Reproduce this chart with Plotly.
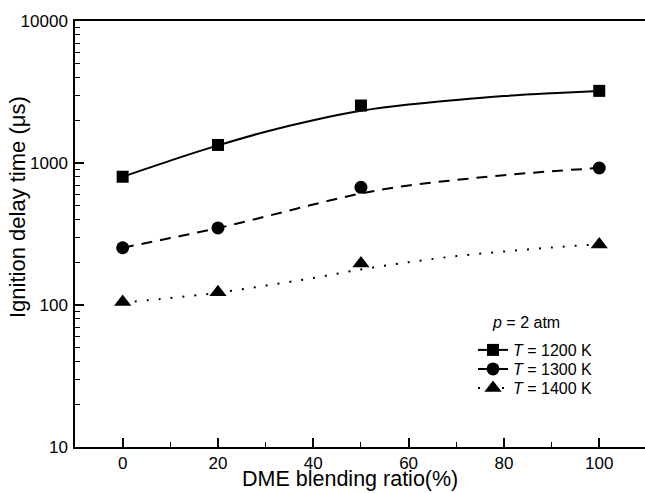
import plotly.graph_objects as go

# ---- data ----
blend = [0, 20, 50, 100]
t1200 = [800, 1340, 2540, 3220]
t1300 = [253, 349, 674, 922]
t1400 = [105, 123, 196, 267]

fit_x = [0, 10, 20, 30, 40, 50, 60, 70, 80, 90, 100]
fit1200 = [800, 1040, 1330, 1660, 2000, 2330, 2580, 2780, 2960, 3100, 3220]
fit1300 = [253, 296, 348, 420, 510, 610, 695, 760, 820, 875, 922]
fit1400 = [104, 112, 122, 137, 155, 178, 200, 221, 238, 254, 268]

x_ticks = [0, 20, 40, 60, 80, 100]
y_ticks = [10, 100, 1000, 10000]
y_ticktext = ["10", "100", "1000", "10000"]
y_minor = [m * 10 ** e for e in (1, 2, 3) for m in range(2, 10)]

labels = ["<i>T</i> = 1200 K", "<i>T</i> = 1300 K", "<i>T</i> = 1400 K"]
symbols = ["square", "circle", "triangle-up"]
sizes = [12, 13, 15]
dashes = ["solid", "11px,8px", "2px,10px"]
legend_ids = ["legend", "legend2", "legend3"]

FONT = "Liberation Sans, Arial, sans-serif"

# plot-area geometry in pixels
L, T, W, H = 75, 21, 570, 426


def px_x(p):
    return (p - L) / W


def px_y(p):
    return 1 - (p - T) / H


fig = go.Figure()
for fy, d in zip([fit1200, fit1300, fit1400], dashes):
    fig.add_trace(go.Scatter(x=fit_x, y=fy, mode="lines", showlegend=False,
                             line=dict(color="black", width=2, dash=d,
                                       shape="spline", smoothing=1)))
for ys, sym, sz in zip([t1200, t1300, t1400], symbols, sizes):
    fig.add_trace(go.Scatter(x=blend, y=ys, mode="markers", showlegend=False,
                             marker=dict(symbol=sym, size=sz, color="black")))
for lab, sym, sz, d, lid in zip(labels, symbols, sizes, dashes, legend_ids):
    fig.add_trace(go.Scatter(x=[None], y=[None], mode="lines+markers", name=lab,
                             legend=lid,
                             line=dict(color="black", width=2, dash=d),
                             marker=dict(symbol=sym, size=sz, color="black")))

leg_centers = [349, 368, 387]
legs = {}
for lid, c in zip(legend_ids, leg_centers):
    legs[lid] = dict(x=px_x(473), y=px_y(c - 16), xanchor="left", yanchor="top",
                     font=dict(size=16, family=FONT), bgcolor="rgba(0,0,0,0)")

fig.update_layout(
    width=645, height=493,
    margin=dict(l=L, r=0, t=T, b=493 - T - H),
    paper_bgcolor="white", plot_bgcolor="white",
    font=dict(family=FONT, color="black"),
    showlegend=True,
    **legs,
    xaxis=dict(range=[-10, 109.6], tickvals=x_ticks, ticks="inside", ticklen=9,
               tickwidth=1.5, tickcolor="black", showline=True, linewidth=1.5,
               linecolor="black", mirror=True, showgrid=False, zeroline=False,
               tickfont=dict(size=17, family=FONT),
               minor=dict(ticks="inside", ticklen=5, tickwidth=1.2, tickcolor="black",
                          dtick=10, showgrid=False)),
    yaxis=dict(type="log", range=[1, 4], tickvals=y_ticks, ticktext=y_ticktext,
               ticks="inside", ticklen=9, tickwidth=1.5, tickcolor="black",
               showline=True, linewidth=1.5, linecolor="black", showgrid=False,
               zeroline=False, tickfont=dict(size=17, family=FONT),
               ticklabelstandoff=2,
               minor=dict(tickmode="array", tickvals=y_minor, ticks="inside",
                          ticklen=5, tickwidth=1.2, tickcolor="black",
                          showgrid=False)),
)

fig.add_annotation(text="DME blending ratio(%)", x=px_x(350), y=px_y(479),
                   xref="paper", yref="paper", showarrow=False,
                   xanchor="center", yanchor="middle", font=dict(size=21.5, family=FONT))
fig.add_annotation(text="Ignition delay time (μs)", x=px_x(17), y=px_y(207),
                   xref="paper", yref="paper", showarrow=False, textangle=-90,
                   xanchor="center", yanchor="middle", font=dict(size=22, family=FONT))
fig.add_annotation(text="<i>p</i> = 2 atm", x=px_x(490), y=px_y(322),
                   xref="paper", yref="paper", showarrow=False,
                   xanchor="left", yanchor="middle", font=dict(size=16, family=FONT))

fig.write_html("out.html")
